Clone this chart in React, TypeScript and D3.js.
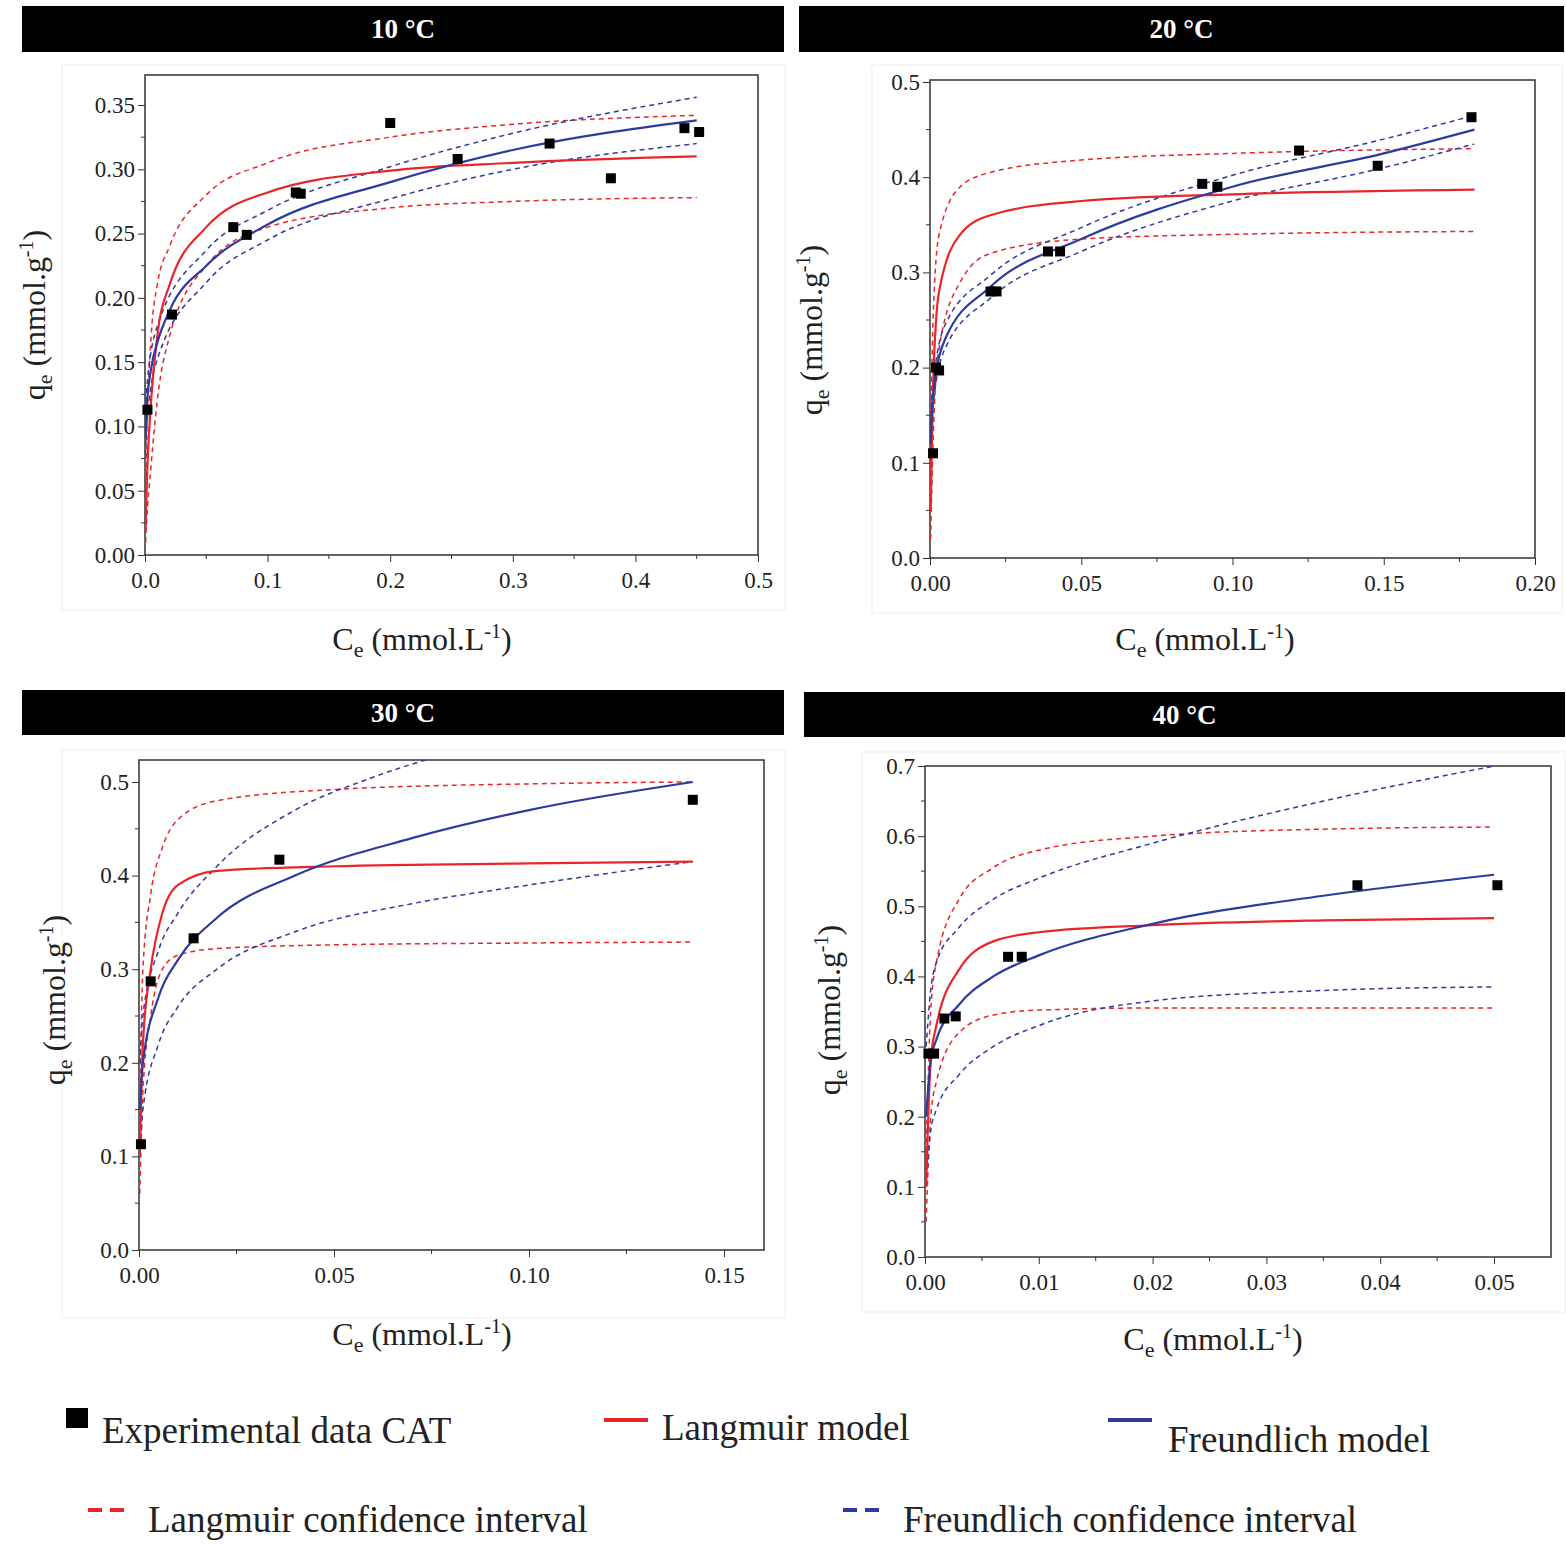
import { useEffect, useRef } from 'react';
import * as d3 from 'd3';

type P = [number, number];

// ---- 10 °C ----
const exp10: P[] = [[0.002,0.113],[0.022,0.187],[0.072,0.255],[0.083,0.249],[0.123,0.282],[0.127,0.281],[0.2,0.336],[0.255,0.308],[0.33,0.32],[0.38,0.293],[0.44,0.332],[0.452,0.329]];
const lang10: P[] = [[0.0005,0.02],[0.001,0.04],[0.005,0.12],[0.01,0.17],[0.02,0.21],[0.05,0.255],[0.1,0.282],[0.2,0.299],[0.3,0.305],[0.45,0.31]];
const langUp10: P[] = [[0.0005,0.04],[0.001,0.07],[0.005,0.17],[0.01,0.21],[0.02,0.24],[0.05,0.28],[0.1,0.305],[0.2,0.325],[0.3,0.335],[0.45,0.342]];
const langLo10: P[] = [[0.0005,0.01],[0.001,0.02],[0.005,0.07],[0.01,0.12],[0.02,0.17],[0.05,0.225],[0.1,0.255],[0.2,0.27],[0.3,0.275],[0.45,0.278]];
const freu10: P[] = [[0.0005,0.09],[0.001,0.11],[0.005,0.145],[0.01,0.165],[0.02,0.19],[0.05,0.225],[0.1,0.257],[0.2,0.29],[0.3,0.315],[0.45,0.338]];
const freuUp10: P[] = [[0.0005,0.105],[0.001,0.125],[0.01,0.178],[0.05,0.237],[0.1,0.268],[0.2,0.302],[0.3,0.328],[0.45,0.356]];
const freuLo10: P[] = [[0.0005,0.078],[0.001,0.095],[0.01,0.152],[0.05,0.212],[0.1,0.245],[0.2,0.277],[0.3,0.3],[0.45,0.32]];

// ---- 20 °C ----
const exp20: P[] = [[0.001,0.11],[0.002,0.2],[0.003,0.197],[0.02,0.28],[0.022,0.28],[0.039,0.322],[0.043,0.322],[0.09,0.393],[0.095,0.39],[0.122,0.428],[0.148,0.412],[0.179,0.463]];
const lang20: P[] = [[0.0002,0.05],[0.001,0.18],[0.003,0.28],[0.01,0.34],[0.02,0.36],[0.05,0.375],[0.1,0.382],[0.18,0.387]];
const langUp20: P[] = [[0.0002,0.1],[0.001,0.25],[0.003,0.34],[0.01,0.39],[0.02,0.405],[0.05,0.418],[0.1,0.425],[0.18,0.43]];
const langLo20: P[] = [[0.0002,0.02],[0.001,0.12],[0.003,0.22],[0.01,0.29],[0.02,0.32],[0.05,0.335],[0.1,0.34],[0.18,0.343]];
const freu20: P[] = [[0.0002,0.12],[0.001,0.17],[0.005,0.23],[0.02,0.285],[0.05,0.335],[0.1,0.39],[0.15,0.425],[0.18,0.45]];
const freuUp20: P[] = [[0.0002,0.13],[0.001,0.18],[0.005,0.245],[0.02,0.297],[0.05,0.347],[0.1,0.402],[0.15,0.44],[0.18,0.465]];
const freuLo20: P[] = [[0.0002,0.11],[0.001,0.16],[0.005,0.22],[0.02,0.273],[0.05,0.322],[0.1,0.375],[0.15,0.41],[0.18,0.435]];

// ---- 30 °C ----
const exp30: P[] = [[0.0005,0.113],[0.003,0.287],[0.014,0.333],[0.036,0.417],[0.142,0.481]];
const lang30: P[] = [[0.0002,0.1],[0.001,0.22],[0.003,0.3],[0.006,0.36],[0.01,0.39],[0.02,0.405],[0.05,0.41],[0.1,0.413],[0.142,0.415]];
const langUp30: P[] = [[0.0002,0.15],[0.001,0.3],[0.003,0.38],[0.006,0.43],[0.01,0.46],[0.02,0.48],[0.05,0.492],[0.1,0.498],[0.142,0.5]];
const langLo30: P[] = [[0.0002,0.06],[0.001,0.17],[0.003,0.25],[0.006,0.3],[0.01,0.315],[0.02,0.322],[0.05,0.326],[0.1,0.328],[0.142,0.329]];
const freu30: P[] = [[0.0002,0.15],[0.001,0.2],[0.005,0.27],[0.01,0.31],[0.02,0.355],[0.04,0.4],[0.07,0.44],[0.1,0.47],[0.142,0.5]];
const freuUp30: P[] = [[0.0002,0.2],[0.001,0.25],[0.005,0.32],[0.01,0.36],[0.02,0.41],[0.04,0.47],[0.06,0.505],[0.083,0.535]];
const freuLo30: P[] = [[0.0002,0.1],[0.001,0.15],[0.005,0.22],[0.01,0.26],[0.02,0.3],[0.04,0.34],[0.07,0.37],[0.1,0.39],[0.142,0.415]];

// ---- 40 °C ----
const exp40: P[] = [[0.0003,0.29],[0.0008,0.29],[0.0017,0.34],[0.0027,0.343],[0.0073,0.428],[0.0085,0.428],[0.038,0.53],[0.0503,0.53]];
const lang40: P[] = [[0.0001,0.1],[0.0005,0.28],[0.001,0.33],[0.003,0.41],[0.006,0.45],[0.01,0.463],[0.02,0.473],[0.035,0.48],[0.05,0.483]];
const langUp40: P[] = [[0.0001,0.15],[0.0005,0.35],[0.001,0.42],[0.003,0.51],[0.006,0.555],[0.01,0.58],[0.02,0.6],[0.035,0.61],[0.05,0.613]];
const langLo40: P[] = [[0.0001,0.05],[0.0005,0.2],[0.001,0.25],[0.003,0.32],[0.006,0.345],[0.01,0.352],[0.02,0.355],[0.05,0.355]];
const freu40: P[] = [[0.0001,0.2],[0.0005,0.28],[0.001,0.31],[0.003,0.36],[0.006,0.4],[0.01,0.43],[0.02,0.475],[0.035,0.515],[0.05,0.545]];
const freuUp40: P[] = [[0.0001,0.3],[0.0005,0.38],[0.001,0.42],[0.003,0.47],[0.006,0.51],[0.01,0.54],[0.02,0.59],[0.035,0.65],[0.05,0.7]];
const freuLo40: P[] = [[0.0001,0.1],[0.0005,0.18],[0.001,0.21],[0.003,0.26],[0.006,0.3],[0.01,0.33],[0.02,0.365],[0.035,0.38],[0.05,0.385]];

const titles = ['10 °C', '20 °C', '30 °C', '40 °C'];

const panels = [
  { title: titles[0], header: [22, 6, 762, 46], frame: [62, 65, 723, 545],
    box: [145, 75, 758, 555], xTicks: d3.range(0, 0.51, 0.1), xFmt: '.1f', xMax: 0.5, xEnd: 758,
    yTicks: d3.range(0, 0.351, 0.05), yFmt: '.2f', yMax: 0.35, yTop: 105,
    data: [exp10, lang10, langUp10, langLo10, freu10, freuUp10, freuLo10], xl: [422, 650], yl: [45, 315] },
  { title: titles[1], header: [799, 6, 765, 46], frame: [872, 65, 690, 548],
    box: [930, 80, 1535, 558], xTicks: d3.range(0, 0.201, 0.05), xFmt: '.2f', xMax: 0.2, xEnd: 1535,
    yTicks: d3.range(0, 0.501, 0.1), yFmt: '.1f', yMax: 0.5, yTop: 82,
    data: [exp20, lang20, langUp20, langLo20, freu20, freuUp20, freuLo20], xl: [1205, 650], yl: [822, 330] },
  { title: titles[2], header: [22, 690, 762, 45], frame: [62, 750, 723, 568],
    box: [139, 760, 764, 1250], xTicks: d3.range(0, 0.151, 0.05), xFmt: '.2f', xMax: 0.15, xEnd: 724,
    yTicks: d3.range(0, 0.501, 0.1), yFmt: '.1f', yMax: 0.5, yTop: 782,
    data: [exp30, lang30, langUp30, langLo30, freu30, freuUp30, freuLo30], xl: [422, 1345], yl: [65, 1000] },
  { title: titles[3], header: [804, 692, 761, 45], frame: [862, 752, 703, 560],
    box: [925, 766, 1551, 1257], xTicks: d3.range(0, 0.0501, 0.01), xFmt: '.2f', xMax: 0.05, xEnd: 1494,
    yTicks: d3.range(0, 0.701, 0.1), yFmt: '.1f', yMax: 0.7, yTop: 766,
    data: [exp40, lang40, langUp40, langLo40, freu40, freuUp40, freuLo40], xl: [1213, 1350], yl: [840, 1010] },
];

const RED = '#e8262a';
const BLUE = '#2e3a9e';
const FONT = '"Liberation Serif", "DejaVu Serif", serif';

export default function App() {
  const ref = useRef<SVGSVGElement>(null);

  useEffect(() => {
    const svg = d3.select(ref.current);
    svg.selectAll('*').remove();
    svg.append('rect').attr('width', 1566).attr('height', 1564).attr('fill', '#fff');

    panels.forEach((p, pi) => {
      const [hx, hy, hw, hh] = p.header;
      svg.append('rect').attr('x', hx).attr('y', hy).attr('width', hw).attr('height', hh).attr('fill', '#000');
      svg.append('text').attr('x', hx + hw / 2).attr('y', hy + hh / 2 + 9).attr('text-anchor', 'middle')
        .attr('fill', '#fff').attr('font-family', FONT).attr('font-weight', 'bold').attr('font-size', 27).text(p.title);
      const [fx, fy, fw, fh] = p.frame;
      svg.append('rect').attr('x', fx).attr('y', fy).attr('width', fw).attr('height', fh).attr('fill', 'none').attr('stroke', '#eee');

      const [l, t, r, b] = p.box;
      const x = d3.scaleLinear().domain([0, p.xMax]).range([l, p.xEnd]);
      const y = d3.scaleLinear().domain([0, p.yMax]).range([b, p.yTop]);

      const clipId = 'clip' + pi;
      svg.append('clipPath').attr('id', clipId).append('rect').attr('x', l).attr('y', t).attr('width', r - l).attr('height', b - t);

      // axes
      const gx = svg.append('g').attr('transform', `translate(0,${b})`)
        .call(d3.axisBottom(x).tickValues(p.xTicks).tickFormat(d3.format(p.xFmt)).tickSizeOuter(0).tickSize(7));
      const gy = svg.append('g').attr('transform', `translate(${l},0)`)
        .call(d3.axisLeft(y).tickValues(p.yTicks).tickFormat(d3.format(p.yFmt)).tickSizeOuter(0).tickSize(7));
      [gx, gy].forEach(g => {
        g.selectAll('text').attr('font-family', FONT).attr('font-size', 23).attr('fill', '#222');
        g.select('.domain').remove();
        g.selectAll('line').attr('stroke', '#333');
      });
      gx.selectAll('text').attr('dy', '1.0em');
      // minor ticks
      const xs = p.xTicks, ys = p.yTicks;
      const xm = d3.range(0, xs.length - 1).map(i => (xs[i] + xs[i + 1]) / 2);
      const ym = d3.range(0, ys.length - 1).map(i => (ys[i] + ys[i + 1]) / 2);
      svg.append('g').selectAll('line').data(xm).join('line')
        .attr('x1', d => x(d)).attr('x2', d => x(d)).attr('y1', b).attr('y2', b + 4).attr('stroke', '#333');
      svg.append('g').selectAll('line').data(ym).join('line')
        .attr('y1', d => y(d)).attr('y2', d => y(d)).attr('x1', l).attr('x2', l - 4).attr('stroke', '#333');
      svg.append('rect').attr('x', l).attr('y', t).attr('width', r - l).attr('height', b - t)
        .attr('fill', 'none').attr('stroke', '#333').attr('stroke-width', 1.5);

      const line = d3.line<P>().x(d => x(d[0])).y(d => y(d[1])).curve(d3.curveMonotoneX);
      const cg = svg.append('g').attr('clip-path', `url(#${clipId})`);
      const [exp, lang, langUp, langLo, freu, freuUp, freuLo] = p.data;
      const style = [
        [langUp, RED, true], [langLo, RED, true], [freuUp, BLUE, true], [freuLo, BLUE, true],
        [lang, RED, false], [freu, BLUE, false],
      ] as [P[], string, boolean][];
      style.forEach(([d, c, dash]) => {
        cg.append('path').attr('d', line(d)).attr('fill', 'none').attr('stroke', c)
          .attr('stroke-width', dash ? 1.5 : 2.2).attr('stroke-dasharray', dash ? '5,4' : null);
      });
      svg.append('g').selectAll('rect').data(exp).join('rect')
        .attr('x', d => x(d[0]) - 5).attr('y', d => y(d[1]) - 5).attr('width', 10).attr('height', 10).attr('fill', '#000');

      // labels
      const xlab = svg.append('text').attr('x', p.xl[0]).attr('y', p.xl[1]).attr('text-anchor', 'middle')
        .attr('font-family', FONT).attr('font-size', 32).attr('fill', '#222');
      xlab.append('tspan').text('C');
      xlab.append('tspan').attr('font-size', 22).attr('dy', 7).text('e');
      xlab.append('tspan').attr('dy', -7).text(' (mmol.L');
      xlab.append('tspan').attr('font-size', 20).attr('dy', -12).text('-1');
      xlab.append('tspan').attr('dy', 12).text(')');
      const ylab = svg.append('text').attr('transform', `translate(${p.yl[0]},${p.yl[1]}) rotate(-90)`)
        .attr('text-anchor', 'middle').attr('font-family', FONT).attr('font-size', 32).attr('fill', '#222');
      ylab.append('tspan').text('q');
      ylab.append('tspan').attr('font-size', 22).attr('dy', 7).text('e');
      ylab.append('tspan').attr('dy', -7).text(' (mmol.g');
      ylab.append('tspan').attr('font-size', 20).attr('dy', -12).text('-1');
      ylab.append('tspan').attr('dy', 12).text(')');
    });

    // legend
    const lg = svg.append('g').attr('font-family', FONT).attr('font-size', 37).attr('fill', '#222');
    lg.append('rect').attr('x', 66).attr('y', 1408).attr('width', 22).attr('height', 20).attr('fill', '#000');
    lg.append('text').attr('x', 102).attr('y', 1443).text('Experimental data CAT');
    lg.append('line').attr('x1', 604).attr('x2', 648).attr('y1', 1420).attr('y2', 1420).attr('stroke', RED).attr('stroke-width', 4);
    lg.append('text').attr('x', 662).attr('y', 1440).text('Langmuir model');
    lg.append('line').attr('x1', 1108).attr('x2', 1152).attr('y1', 1420).attr('y2', 1420).attr('stroke', BLUE).attr('stroke-width', 4);
    lg.append('text').attr('x', 1168).attr('y', 1452).text('Freundlich model');
    lg.append('line').attr('x1', 88).attr('x2', 130).attr('y1', 1510).attr('y2', 1510).attr('stroke', RED).attr('stroke-width', 4).attr('stroke-dasharray', '14,8');
    lg.append('text').attr('x', 148).attr('y', 1532).text('Langmuir confidence interval');
    lg.append('line').attr('x1', 843).attr('x2', 885).attr('y1', 1510).attr('y2', 1510).attr('stroke', BLUE).attr('stroke-width', 4).attr('stroke-dasharray', '14,8');
    lg.append('text').attr('x', 903).attr('y', 1532).text('Freundlich confidence interval');
  }, []);

  return <svg ref={ref} width={1566} height={1564} style={{ position: 'absolute', left: 0, top: 0 }} />;
}
